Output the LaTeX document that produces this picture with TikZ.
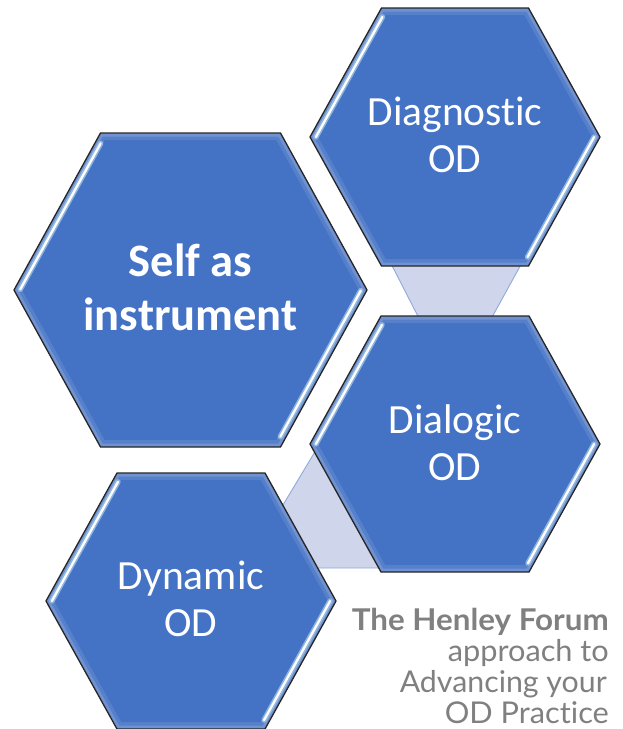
\documentclass[tikz,border=0pt]{standalone}
\usepackage{fontspec}
\setmainfont[Ligatures={NoCommon,NoRare}]{Carlito}
\newfontfamily\henleyfont[Ligatures={NoCommon,NoRare}]{Lato}
\definecolor{hexblue}{HTML}{4472C4}
\definecolor{connfill}{HTML}{CFD5EA}
\definecolor{connline}{HTML}{8FAADC}
\definecolor{glowblue}{HTML}{9DC3E6}
\definecolor{henleygray}{HTML}{808080}
\definecolor{hexedge}{HTML}{262626}

% hexagon: cx cy halfwidth halftop halfheight
\newcommand\hexshape[5]{%
  \pgfmathsetmacro\hxL{#1-#3}\pgfmathsetmacro\hxR{#1+#3}%
  \pgfmathsetmacro\hxl{#1-#4}\pgfmathsetmacro\hxr{#1+#4}%
  \pgfmathsetmacro\hyT{#2-#5}\pgfmathsetmacro\hyB{#2+#5}%
  \begin{scope}
    \path[clip] (\hxL,#2) -- (\hxl,\hyT) -- (\hxr,\hyT) -- (\hxR,#2) -- (\hxr,\hyB) -- (\hxl,\hyB) -- cycle;
    \fill[hexblue] (\hxL-5,\hyT-5) rectangle (\hxR+5,\hyB+5);
    \draw[white,opacity=0.10,line width=14] (\hxL,#2) -- (\hxl,\hyT) -- (\hxr,\hyT) -- (\hxR,#2) -- (\hxr,\hyB) -- (\hxl,\hyB) -- cycle;
    \draw[white,opacity=0.15,line width=7] (\hxL,#2) -- (\hxl,\hyT) -- (\hxr,\hyT) -- (\hxR,#2) -- (\hxr,\hyB) -- (\hxl,\hyB) -- cycle;
  \end{scope}
  \draw[hexhilite glow] ({\hxl+0.05*(\hxL-\hxl)+4.5},{\hyT+0.05*#5+2.5}) -- ({\hxL+0.02*(\hxl-\hxL)+4.5},{#2-0.02*#5+2.5});
  \draw[hexhilite] ({\hxl+0.05*(\hxL-\hxl)+4.5},{\hyT+0.05*#5+2.5}) -- ({\hxL+0.02*(\hxl-\hxL)+4.5},{#2-0.02*#5+2.5});
  \draw[hexhilite glow] ({\hxR+0.02*(\hxr-\hxR)-4.5},{#2+0.02*#5-2.5}) -- ({\hxr+0.05*(\hxR-\hxr)-4.5},{\hyB-0.05*#5-2.5});
  \draw[hexhilite] ({\hxR+0.02*(\hxr-\hxR)-4.5},{#2+0.02*#5-2.5}) -- ({\hxr+0.05*(\hxR-\hxr)-4.5},{\hyB-0.05*#5-2.5});
  \draw[hexedge,line width=1.3,line join=miter] (\hxL,#2) -- (\hxl,\hyT) -- (\hxr,\hyT) -- (\hxR,#2) -- (\hxr,\hyB) -- (\hxl,\hyB) -- cycle;
}
\newcommand\fitwidth[2]{\resizebox{#1pt}{\height}{#2}}

\tikzset{
  hexhilite/.style={white,line width=2.3,line cap=round},
  hexhilite glow/.style={glowblue,opacity=0.8,line width=5.5,line cap=round},
  connector/.style={fill=connfill,draw=connline,line width=0.9,line join=miter},
  hexlabel/.style={text=white,font=\fontsize{41.5}{47}\selectfont,anchor=base,inner sep=0pt},
  biglabel/.style={text=white,font=\bfseries\fontsize{46.5}{53}\selectfont,anchor=base,inner sep=0pt},
  henleyline/.style={text=henleygray,font=\henleyfont\fontsize{30}{31}\selectfont,anchor=base east,inner sep=0pt},
}

\begin{document}
\begin{tikzpicture}[x=1pt,y=-1pt]
\useasboundingbox (0,0) rectangle (622,729);
\fill[white] (0,0) rectangle (622,729);

% connectors (behind the hexagons)
\draw[connector] (384,250) -- (529,250) -- (485,330) -- (425,330) -- cycle;
\draw[connector] (331,425) -- (271,525) -- (300,568) -- (400,568) -- cycle;

% hexagons
\hexshape{455}{137}{145}{73.5}{129}
\hexshape{190.5}{290}{176.5}{90}{157}
\hexshape{455}{444}{145}{74}{128}
\hexshape{191}{601}{145}{74}{128}

% labels
\node[hexlabel] (diag1) at (455,125) {Diagnostic};
\node[hexlabel] (diag2) at (455,172) {OD};
\node[biglabel] (self1) at (190.5,276.7) {Self as};
\node[biglabel] (self2) at (190.5,330) {instrument};
\node[hexlabel] (dial1) at (455,433) {Dialogic};
\node[hexlabel] (dial2) at (455,480) {OD};
\node[hexlabel] (dyn1) at (191,589) {Dynamic};
\node[hexlabel] (dyn2) at (191,636) {OD};

\node[henleyline,font=\henleyfont\bfseries\fontsize{30}{31}\selectfont] (hf1) at (609,630) {\fitwidth{257}{The Henley Forum}};
\node[henleyline] (hf2) at (609,661) {\fitwidth{161}{approach to}};
\node[henleyline] (hf3) at (607,692) {\fitwidth{207}{Advancing your}};
\node[henleyline] (hf4) at (609,723) {\fitwidth{164}{OD Practice}};
\end{tikzpicture}
\end{document}
